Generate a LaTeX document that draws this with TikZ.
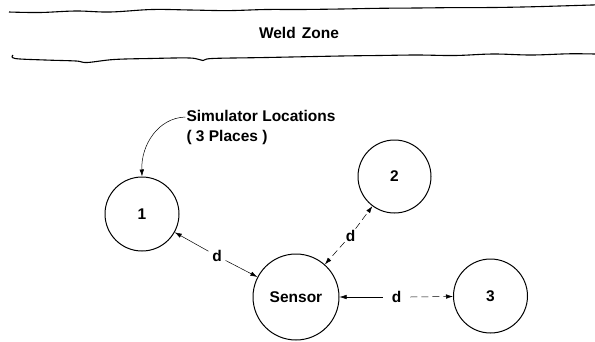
\documentclass[tikz,border=0pt]{standalone}
\usepackage{fontspec}
\setmainfont{Liberation Sans}
\usetikzlibrary{arrows.meta}
\begin{document}
\begin{tikzpicture}[x=1pt,y=-1pt,
  edgeline/.style={line width=1.1pt,line join=round},
  site/.style={circle,draw,line width=1pt,minimum size=#1,inner sep=0pt,font=\bfseries\fontsize{15.5}{18}\selectfont},
  lbl/.style={font=\bfseries\fontsize{15.5}{20}\selectfont,inner sep=1pt},
  solidgap/.style={line width=0.5pt},
  gap/.style={dash pattern=on 7pt off 4pt,line width=0.5pt},
  tip/.style={-{Latex[length=7pt,width=4.5pt]}},
]
\useasboundingbox (0,0) rectangle (595,341);

% weld zone boundaries
\draw[edgeline] plot[smooth,tension=0.6] coordinates {(9,12) (40,12.5) (76,11) (110,12) (152,9.5) (190,10) (228,10.6) (266,9.5) (300,9.5) (341,9) (379,8.3) (417,8) (455,7.6) (493,7.5) (531,6.8) (569,5.7) (595,4.9)};
\draw[edgeline] plot[smooth,tension=0.6] coordinates {(13,55) (15,58.5) (45,60) (76,61) (87,62.5) (114,59.5) (150,58.5) (190,58) (203,60.5) (212,58.5) (266,57.5) (341,56) (379,55.5) (417,55) (455,55.5) (493,54) (531,55) (569,53.8) (595,54)};
\node[lbl] (weld) at (299,32.5) {Weld\hspace{0.4em}Zone};

% simulator sites and sensor
\node[site=74pt] (s1) at (142,214) {1};
\node[site=73pt] (s2) at (394.5,176.5) {2};
\node[site=74pt] (s3) at (490.5,296) {3};
\node[site=86pt] (sen) at (296,297) {Sensor};

% caption with pointer
\node[lbl,anchor=north west,align=left] (cap) at (185.3,109.4) {Simulator Locations\\( 3 Places )};
\draw[line width=0.5pt,-{Latex[length=7pt,width=4.5pt]}] (cap.west |- 0,117) .. controls (158,118) and (141,145) .. (s1.north);

% distance markers
\node[lbl] (d1) at (217,256) {d};
\node[lbl] (d2) at (350.5,235.5) {d};
\node[lbl] (d3) at (396.5,297) {d};
\draw[solidgap,tip,shorten <=3pt] (d1) -- (s1);
\draw[solidgap,tip,shorten <=3pt] (d1) -- (sen);
\draw[gap,tip] (d2) -- (s2);
\draw[gap,tip] (d2) -- (sen);
\draw[solidgap,tip] (d3.west) ++(-8,0) coordinate (d3a) (d3a) -- (sen);
\draw[gap,tip] (d3.east) ++(8,0) coordinate (d3b) (d3b) -- (s3);
\end{tikzpicture}
\end{document}
